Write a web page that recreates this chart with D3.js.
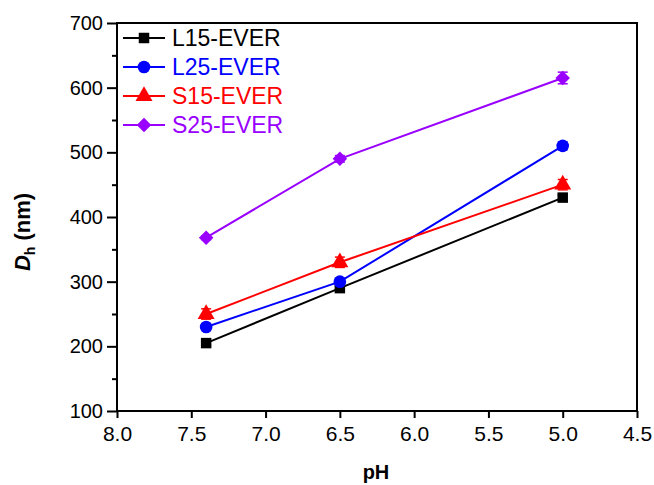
<!DOCTYPE html>
<html>
<head>
<meta charset="utf-8">
<script src="https://cdn.jsdelivr.net/npm/d3@7"></script>
<style>
  body { margin: 0; background: #fff; }
  svg { font-family: "Liberation Sans", Arial, sans-serif; }
</style>
</head>
<body>
<svg width="654" height="485"></svg>
<script>
// pH values and hydrodynamic diameters (nm)
const phValues = [7.4, 6.5, 5.0];
const seriesNames = ["L15-EVER", "L25-EVER", "S15-EVER", "S25-EVER"];
const l15 = [205, 290, 430];
const l25 = [230, 300, 510];
const s15 = [250, 330, 450];
const s25 = [368, 490, 615];
// error bar half-widths (nm)
const l15Err = [3, 3, 4];
const l25Err = [3, 5, 6];
const s15Err = [8, 8, 8];
const s25Err = [3, 5, 9];
const xTicks = [8.0, 7.5, 7.0, 6.5, 6.0, 5.5, 5.0, 4.5];
const yTicks = [100, 200, 300, 400, 500, 600, 700];

const colors = ["#000000", "#0000ff", "#ff0000", "#9900ff"];
const symbols = [d3.symbolSquare, d3.symbolCircle, d3.symbolTriangle, d3.symbolSquare];
const sizes = [110, 125, 125, 105];
const rotations = [0, 0, 0, 45];

const series = [l15, l25, s15, s25].map((vals, i) => ({
    name: seriesNames[i],
    points: vals.map((v, j) => ({ x: phValues[j], y: v, e: [l15Err, l25Err, s15Err, s25Err][i][j] }))
}));

const svg = d3.select("svg");
const plotLeft = 117, plotRight = 637, plotTop = 23, plotBottom = 411;

const x = d3.scaleLinear().domain([8.0, 4.5]).range([plotLeft, plotRight]);
const y = d3.scaleLinear().domain([100, 700]).range([plotBottom, plotTop]);

// frame
svg.append("rect")
    .attr("x", plotLeft).attr("y", plotTop)
    .attr("width", plotRight - plotLeft).attr("height", plotBottom - plotTop)
    .attr("fill", "none").attr("stroke", "#000").attr("stroke-width", 2);

// bottom axis
const xAxis = svg.append("g")
    .attr("transform", `translate(0,${plotBottom})`)
    .call(d3.axisBottom(x).tickValues(xTicks).tickFormat(d3.format(".1f")).tickSize(7).tickPadding(8));
xAxis.select(".domain").remove();
xAxis.selectAll("line").attr("stroke-width", 2);
xAxis.selectAll("text").attr("font-size", 21).attr("fill", "#000")
    .attr("font-family", "Liberation Sans, Arial, sans-serif");

// left axis, major + minor ticks
const yMinor = svg.append("g")
    .attr("transform", `translate(${plotLeft},0)`)
    .call(d3.axisLeft(y).tickValues(d3.range(150, 700, 100)).tickFormat("").tickSize(5));
yMinor.select(".domain").remove();
yMinor.selectAll("line").attr("stroke-width", 2);

const yAxis = svg.append("g")
    .attr("transform", `translate(${plotLeft},0)`)
    .call(d3.axisLeft(y).tickValues(yTicks).tickSize(10).tickPadding(4));
yAxis.select(".domain").remove();
yAxis.selectAll("line").attr("stroke-width", 2);
yAxis.selectAll("text").attr("font-size", 20).attr("fill", "#000")
    .attr("font-family", "Liberation Sans, Arial, sans-serif");

// axis titles
svg.append("text")
    .attr("x", 376).attr("y", 479)
    .attr("text-anchor", "middle")
    .attr("font-size", 20).attr("font-weight", "bold")
    .text("pH");

const yTitle = svg.append("text")
    .attr("transform", `translate(30,232) rotate(-90)`)
    .attr("text-anchor", "middle")
    .attr("font-size", 22).attr("font-weight", "bold");
yTitle.append("tspan").attr("font-style", "italic").text("D");
yTitle.append("tspan").attr("font-size", 14).attr("dy", 5).text("h");
yTitle.append("tspan").attr("dy", -5).text(" (nm)");

// lines, error bars and markers
const line = d3.line().x(d => x(d.x)).y(d => y(d.y));

series.forEach((s, i) => {
    svg.append("path")
        .datum(s.points)
        .attr("d", line)
        .attr("fill", "none")
        .attr("stroke", colors[i])
        .attr("stroke-width", 2);

    const eb = svg.selectAll(".e" + i)
        .data(s.points)
        .enter().append("g")
        .attr("class", "e" + i)
        .attr("stroke", colors[i])
        .attr("stroke-width", 1.5);
    eb.append("line")
        .attr("x1", d => x(d.x)).attr("x2", d => x(d.x))
        .attr("y1", d => y(d.y - d.e)).attr("y2", d => y(d.y + d.e));
    eb.append("line")
        .attr("x1", d => x(d.x) - 5).attr("x2", d => x(d.x) + 5)
        .attr("y1", d => y(d.y + d.e)).attr("y2", d => y(d.y + d.e));
    eb.append("line")
        .attr("x1", d => x(d.x) - 5).attr("x2", d => x(d.x) + 5)
        .attr("y1", d => y(d.y - d.e)).attr("y2", d => y(d.y - d.e));

    svg.selectAll(".m" + i)
        .data(s.points)
        .enter().append("path")
        .attr("class", "m" + i)
        .attr("transform", d => `translate(${x(d.x)},${y(d.y)}) rotate(${rotations[i]})`)
        .attr("d", d3.symbol().type(symbols[i]).size(sizes[i]))
        .attr("fill", colors[i]);
});

// legend
const legend = svg.selectAll(".legend")
    .data(series)
    .enter().append("g")
    .attr("class", "legend")
    .attr("transform", (d, i) => `translate(123,${38 + i * 29})`);

legend.append("line")
    .attr("x1", 0).attr("x2", 42)
    .attr("stroke", (d, i) => colors[i])
    .attr("stroke-width", 2);

legend.append("path")
    .attr("transform", (d, i) => `translate(21,0) rotate(${rotations[i]})`)
    .attr("d", (d, i) => d3.symbol().type(symbols[i]).size(sizes[i])())
    .attr("fill", (d, i) => colors[i]);

legend.append("text")
    .attr("x", 49).attr("dy", "0.36em")
    .attr("font-size", 23)
    .attr("fill", (d, i) => colors[i])
    .text(d => d.name);
</script>
</body>
</html>
